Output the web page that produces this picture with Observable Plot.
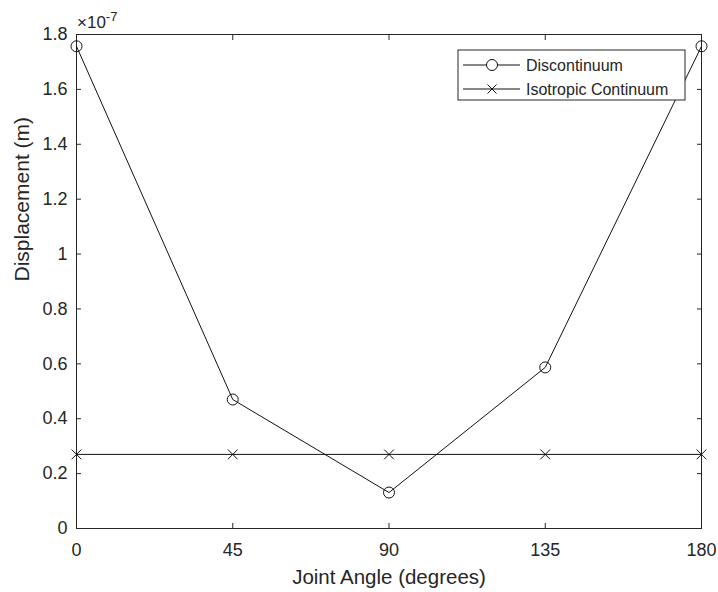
<!DOCTYPE html>
<html><head><meta charset="utf-8">
<script src="https://cdn.jsdelivr.net/npm/d3@7"></script>
<script src="https://cdn.jsdelivr.net/npm/@observablehq/plot@0.6"></script>
<style>
body{margin:0;background:#fff;}
#chart svg{font-family:"Liberation Sans",Arial,sans-serif;}
</style></head>
<body><div id="chart"></div>
<script>
const angles = [0, 45, 90, 135, 180];
const discontinuum = [1.757e-7, 0.470e-7, 0.131e-7, 0.587e-7, 1.757e-7];
const isotropic = [0.27e-7, 0.27e-7, 0.27e-7, 0.27e-7, 0.27e-7];
const xTicks = [0, 45, 90, 135, 180];
const yTicks = [0, 0.2e-7, 0.4e-7, 0.6e-7, 0.8e-7, 1.0e-7, 1.2e-7, 1.4e-7, 1.6e-7, 1.8e-7];
const seriesNames = ["Discontinuum", "Isotropic Continuum"];

const disc = angles.map((a, i) => ({angle: a, value: discontinuum[i]}));
const iso = angles.map((a, i) => ({angle: a, value: isotropic[i]}));
const ink = "#262626";
const fmtY = d => String(+(d * 1e7).toFixed(1));

const plot = Plot.plot({
  width: 718, height: 592,
  marginLeft: 76, marginRight: 17, marginTop: 34, marginBottom: 64,
  style: {fontSize: "18px", color: ink, fontFamily: "Liberation Sans, Arial, sans-serif"},
  x: {domain: [0, 180]},
  y: {domain: [0, 1.8e-7]},
  marks: [
    Plot.frame({stroke: ink, strokeWidth: 1}),
    Plot.axisX({ticks: xTicks, tickSize: -5, tickPadding: 20, tickFormat: d => String(d), label: null, fontSize: 18}),
    Plot.axisX({anchor: "top", ticks: xTicks, tickSize: -5, tickFormat: () => "", label: null}),
    Plot.axisY({ticks: yTicks, tickSize: -5, tickPadding: 14, tickFormat: fmtY, label: null, fontSize: 18}),
    Plot.axisY({anchor: "right", ticks: yTicks, tickSize: -5, tickFormat: () => "", label: null}),
    Plot.line(iso, {x: "angle", y: "value", stroke: "#111", strokeWidth: 1}),
    Plot.dot(iso, {x: "angle", y: "value", symbol: "times", r: 4.5, stroke: "#111", strokeWidth: 1}),
    Plot.line(disc, {x: "angle", y: "value", stroke: "#111", strokeWidth: 1}),
    Plot.dot(disc, {x: "angle", y: "value", symbol: "circle", r: 5.5, stroke: "#111", fill: "none", strokeWidth: 1}),
    Plot.text(["Joint Angle (degrees)"], {frameAnchor: "bottom", dy: 55, fontSize: 20.5, fill: ink}),
    Plot.text(["Displacement (m)"], {frameAnchor: "left", dx: -54, rotate: -90, fontSize: 21, fill: ink})
  ]
});
document.getElementById("chart").appendChild(plot);

const svg = d3.select(plot);
// exponent label
const ex = svg.append("text").attr("x", 77).attr("y", 28).attr("text-anchor", "start")
  .attr("font-size", 17).attr("fill", ink);
ex.append("tspan").text("×10");
ex.append("tspan").attr("dy", -7).attr("font-size", 13).text("-7");

// Legend inside the axes, top-right
const lg = svg.append("g").attr("transform", "translate(458,50)");
lg.append("rect").attr("width", 227).attr("height", 50).attr("fill", "#fff").attr("stroke", ink).attr("stroke-width", 1);
seriesNames.forEach((name, i) => {
  const y = 15 + i * 24;
  lg.append("line").attr("x1", 5).attr("x2", 62).attr("y1", y).attr("y2", y).attr("stroke", "#111");
  if (i === 0) {
    lg.append("circle").attr("cx", 34).attr("cy", y).attr("r", 5.5).attr("fill", "#fff").attr("stroke", "#111");
  } else {
    lg.append("path").attr("d", `M${34-4.5},${y-4.5}L${34+4.5},${y+4.5}M${34-4.5},${y+4.5}L${34+4.5},${y-4.5}`).attr("stroke", "#111");
  }
  lg.append("text").attr("x", 68).attr("y", y).attr("dy", "0.35em").attr("text-anchor", "start")
    .attr("font-size", 16).attr("fill", ink).text(name);
});
</script></body></html>
